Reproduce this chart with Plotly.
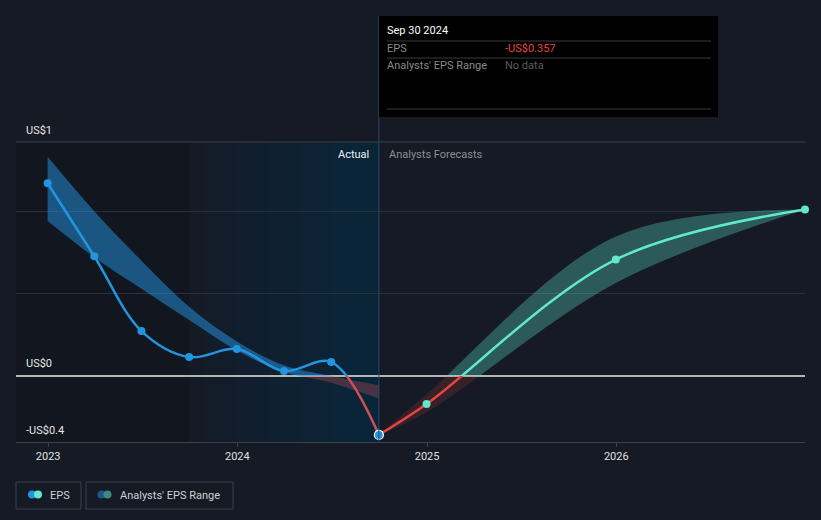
import plotly.graph_objects as go

# ---------------- data ----------------
actual_dates = ["2022-12-31", "2023-03-31", "2023-06-30", "2023-09-30",
                "2023-12-31", "2024-03-31", "2024-06-30", "2024-09-30"]
actual_eps = [1.17, 0.727, 0.273, 0.115, 0.164, 0.03, 0.085, -0.357]
past_range_high = [1.33, 1.00, 0.70, 0.42, 0.21, 0.065, 0.0, -0.056]
past_range_low = [0.94, 0.72, 0.53, 0.34, 0.155, 0.025, -0.04, -0.135]

fc_dates = ["2024-09-30", "2024-12-31", "2025-12-31", "2026-12-31"]
fc_eps = [-0.357, -0.17, 0.707, 1.01]
fc_high = [-0.357, -0.11, 0.847, 1.01]
fc_low = [-0.357, -0.22, 0.565, 1.01]

year_ticks = ["2023-01-01", "2024-01-01", "2025-01-01", "2026-01-01"]
year_labels = ["2023", "2024", "2025", "2026"]
y_labels = ["US$1", "US$0", "-US$0.4"]

# ---------------- styling ----------------
BG = "#151a25"
BLUE = "#2394df"
TEAL = "#61e8cd"
RED_PAST = "#cf4f57"
RED_FC = "#e8453c"
FONT = "Roboto"

Y_MIN, Y_MAX = -0.4, 1.42
ZF = (0 - Y_MIN) / (Y_MAX - Y_MIN)  # zero position in paper fraction

W, H = 821, 520
L, R, T, B = 16, 805, 142, 442


def px(x):
    return (x - L) / (R - L)


def py(y):
    return (B - y) / (B - T)


fig = go.Figure()

# base subplot (grid, axes)
fig.add_trace(go.Scatter(x=[], y=[], yaxis="y", mode="lines", hoverinfo="skip"))

# --- past range band (above zero: blue, below zero: red) ---
for ax, col in (("y2", "rgba(35,150,230,0.5)"), ("y3", "rgba(200,80,95,0.32)")):
    fig.add_trace(go.Scatter(x=actual_dates, y=past_range_low, yaxis=ax, mode="lines",
                             line=dict(width=0, shape="spline"), hoverinfo="skip"))
    fig.add_trace(go.Scatter(x=actual_dates, y=past_range_high, yaxis=ax, mode="lines",
                             line=dict(width=0, shape="spline"), fill="tonexty",
                             fillcolor=col, hoverinfo="skip"))

# --- forecast range band ---
for ax, col in (("y2", "rgba(97,232,205,0.31)"), ("y3", "rgba(232,69,60,0.16)")):
    fig.add_trace(go.Scatter(x=fc_dates, y=fc_low, yaxis=ax, mode="lines",
                             line=dict(width=0, shape="spline"), hoverinfo="skip"))
    fig.add_trace(go.Scatter(x=fc_dates, y=fc_high, yaxis=ax, mode="lines",
                             line=dict(width=0, shape="spline"), fill="tonexty",
                             fillcolor=col, hoverinfo="skip"))

# --- lines: above zero on y2, below zero on y3 ---
fig.add_trace(go.Scatter(x=actual_dates, y=actual_eps, yaxis="y2", mode="lines",
                         line=dict(color=BLUE, width=2.5, shape="spline")))
fig.add_trace(go.Scatter(x=actual_dates, y=actual_eps, yaxis="y3", mode="lines",
                         line=dict(color=RED_PAST, width=2.5, shape="spline")))
fig.add_trace(go.Scatter(x=fc_dates, y=fc_eps, yaxis="y2", mode="lines",
                         line=dict(color=TEAL, width=2.5, shape="spline")))
fig.add_trace(go.Scatter(x=fc_dates, y=fc_eps, yaxis="y3", mode="lines",
                         line=dict(color=RED_FC, width=2.5, shape="spline")))

# --- markers ---
fig.add_trace(go.Scatter(x=actual_dates[:-1], y=actual_eps[:-1], yaxis="y4", mode="markers",
                         marker=dict(color=BLUE, size=8), cliponaxis=False))
fig.add_trace(go.Scatter(x=fc_dates[1:], y=fc_eps[1:], yaxis="y4", mode="markers",
                         marker=dict(color=TEAL, size=8), cliponaxis=False))
fig.add_trace(go.Scatter(x=actual_dates[-1:], y=actual_eps[-1:], yaxis="y4", mode="markers",
                         marker=dict(color=BLUE, size=9, line=dict(color="white", width=1.2)),
                         cliponaxis=False))

# ---------------- shapes ----------------
shapes = []
# darker past area
shapes.append(dict(type="rect", xref="paper", yref="paper", x0=0, x1=px(189), y0=0, y1=1,
                   fillcolor="#12161e", line=dict(width=0), layer="below"))
# last-year highlight with gradient
n = 12
for i in range(n):
    x0 = 189 + (379 - 189) * i / n
    shapes.append(dict(type="rect", xref="paper", yref="paper", x0=px(x0), x1=px(379),
                       y0=0, y1=1, fillcolor="rgba(10,80,140,0.018)",
                       line=dict(width=0), layer="below"))
# top border line
shapes.append(dict(type="line", xref="paper", yref="paper", x0=0, x1=1, y0=1, y1=1,
                   line=dict(color="#3b404b", width=1)))
# vertical "now" line
shapes.append(dict(type="line", xref="x", yref="paper", x0="2024-09-30", x1="2024-09-30",
                   y0=0, y1=py(16), line=dict(color="#2d4963", width=1)))
# tooltip box
shapes.append(dict(type="rect", xref="paper", yref="paper", x0=px(379), x1=px(718),
                   y0=py(117), y1=py(16), fillcolor="#000000", line=dict(width=0)))
for yy in (41, 58, 109):
    shapes.append(dict(type="line", xref="paper", yref="paper", x0=px(387), x1=px(711),
                       y0=py(yy), y1=py(yy), line=dict(color="#3a3a3a", width=1)))
# legend boxes
for (a, b) in ((16, 81), (86, 233)):
    shapes.append(dict(type="rect", xref="paper", yref="paper", x0=px(a), x1=px(b),
                       y0=py(509), y1=py(482), line=dict(color="#3b404b", width=1),
                       fillcolor="rgba(0,0,0,0)"))


def circ(cx, cy, r, col):
    return dict(type="circle", xref="paper", yref="paper", x0=px(cx - r), x1=px(cx + r),
                y0=py(cy + r), y1=py(cy - r), fillcolor=col, line=dict(width=0))


shapes += [circ(32, 494.5, 4, BLUE), circ(38, 494.5, 4, TEAL),
           circ(101.5, 494.5, 4, "#1f5a86"), circ(107.5, 494.5, 4, "#3e8a80")]

# ---------------- annotations ----------------
ann = []


def text(x, y, s, color, size=11, anchor="left"):
    ann.append(dict(x=px(x), y=py(y), xref="paper", yref="paper", text=s,
                    showarrow=False, xanchor=anchor, yanchor="middle",
                    font=dict(family=FONT, size=size, color=color)))


text(24, 130, y_labels[0], "#e6e6e6")
text(24, 363, y_labels[1], "#e6e6e6")
text(24, 430, y_labels[2], "#e6e6e6")
text(371, 154, "Actual", "#f0f0f0", anchor="right")
text(387, 154, "Analysts Forecasts", "#8e8e8e")
text(385, 31, "Sep 30 2024", "#ffffff")
text(385, 48, "EPS", "#8a8a8a")
text(503, 48, "-US$0.357", RED_FC)
text(385, 66, "Analysts' EPS Range", "#8a8a8a")
text(503, 66, "No data", "#5c5c5c")
text(48, 495, "EPS", "#d0d0d0")
text(118, 495, "Analysts' EPS Range", "#d0d0d0")

# ---------------- layout ----------------
fig.update_layout(
    width=W, height=H,
    margin=dict(l=L, r=W - R, t=T, b=H - B),
    paper_bgcolor=BG, plot_bgcolor="rgba(0,0,0,0)",
    showlegend=False, hovermode=False,
    shapes=shapes, annotations=ann,
    xaxis=dict(type="date", range=["2022-10-31", "2026-12-31"], tickvals=year_ticks,
               ticktext=year_labels, ticks="outside", ticklen=4, tickcolor="#3b404b",
               tickfont=dict(family=FONT, size=11, color="#e0e0e0"),
               showgrid=False, zeroline=False, showline=True, linecolor="#3b404b",
               linewidth=1, anchor="y"),
    yaxis=dict(range=[Y_MIN, Y_MAX], domain=[0, 1], tickvals=[0.5, 1.0],
               showticklabels=False, showgrid=True, gridcolor="#2a303b", gridwidth=1,
               zeroline=True, zerolinecolor="#b5b5b5", zerolinewidth=1.5,
               showline=False, anchor="x"),
    yaxis2=dict(range=[0, Y_MAX], domain=[ZF, 1], visible=False, anchor="x"),
    yaxis3=dict(range=[Y_MIN, 0], domain=[0, ZF], visible=False, anchor="x"),
    yaxis4=dict(range=[Y_MIN, Y_MAX], domain=[0, 1], visible=False, anchor="x"),
)

fig.write_html("out.html", config={"displayModeBar": False},
               post_script="document.body.style.margin='0';")
